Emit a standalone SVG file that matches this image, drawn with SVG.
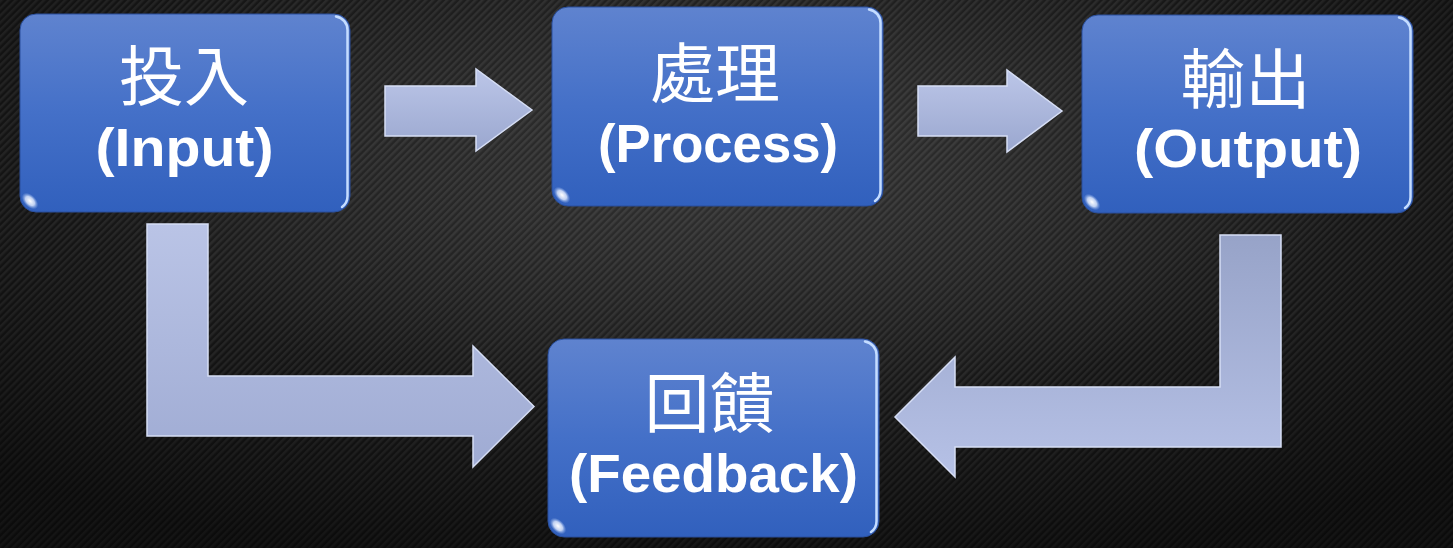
<svg xmlns="http://www.w3.org/2000/svg" width="1453" height="548" viewBox="0 0 1453 548">
<defs>
  <pattern id="stripes" width="5" height="5" patternUnits="userSpaceOnUse" patternTransform="rotate(-45)">
    <rect width="5" height="5" fill="#191919"/>
    <rect width="5" height="2.5" fill="#2d2d2d"/>
  </pattern>
  <radialGradient id="vign" cx="0.5" cy="0.3" r="0.75">
    <stop offset="0" stop-color="#ffffff" stop-opacity="0.10"/>
    <stop offset="0.6" stop-color="#000000" stop-opacity="0.15"/>
    <stop offset="1" stop-color="#000000" stop-opacity="0.55"/>
  </radialGradient>
  <linearGradient id="boxg" x1="0" y1="0" x2="0" y2="1">
    <stop offset="0" stop-color="#5f83cf"/>
    <stop offset="0.5" stop-color="#4470c8"/>
    <stop offset="1" stop-color="#3160bd"/>
  </linearGradient>
  <linearGradient id="hiline" x1="0" y1="0" x2="1" y2="0">
    <stop offset="0" stop-color="#b8d0f5" stop-opacity="0.3"/>
    <stop offset="0.1" stop-color="#b8d0f5" stop-opacity="0.9"/>
    <stop offset="0.9" stop-color="#b8d0f5" stop-opacity="0.9"/>
    <stop offset="1" stop-color="#b8d0f5" stop-opacity="0.3"/>
  </linearGradient>
  <linearGradient id="arrH" x1="0" y1="0" x2="0" y2="1">
    <stop offset="0" stop-color="#bcc6e8"/>
    <stop offset="1" stop-color="#9aa7cf"/>
  </linearGradient>
  <linearGradient id="arrL" x1="0" y1="0" x2="0" y2="1">
    <stop offset="0" stop-color="#bac4e6"/>
    <stop offset="1" stop-color="#9fabd3"/>
  </linearGradient>
  <linearGradient id="arrR" x1="0" y1="0" x2="0" y2="1">
    <stop offset="0" stop-color="#97a3c8"/>
    <stop offset="1" stop-color="#b6c1e6"/>
  </linearGradient>
  <radialGradient id="glint" cx="0.5" cy="0.5" r="0.5">
    <stop offset="0" stop-color="#ffffff" stop-opacity="1"/>
    <stop offset="0.55" stop-color="#e4edff" stop-opacity="0.8"/>
    <stop offset="1" stop-color="#9fbcf0" stop-opacity="0"/>
  </radialGradient>
  <style>
    .box { fill: url(#boxg); stroke: #2a4f9c; stroke-width: 1; }
    .edge { fill: none; stroke: #c4dcff; stroke-width: 2.5; stroke-linecap: round; }
    .top { fill: none; stroke: url(#hiline); stroke-width: 3; stroke-linecap: round; }
    .cjk { font-family: "Noto Sans CJK TC", "Noto Sans CJK SC", sans-serif; font-size: 65px; fill: #ffffff; text-anchor: middle; }
    .lat { font-family: "Liberation Sans", Arial, sans-serif; font-weight: bold; font-size: 54px; fill: #ffffff; text-anchor: middle; }
    .arrow { stroke: #d6def5; stroke-width: 1.5; stroke-linejoin: miter; }
  </style>
</defs>

<rect x="0" y="0" width="1453" height="548" fill="url(#stripes)"/>
<rect x="0" y="0" width="1453" height="548" fill="url(#vign)"/>

<g id="connectors">
  <path class="arrow" fill="url(#arrH)" d="M385,86 H476 V69 L532,110 L476,151 V136 H385 Z"/>
  <path class="arrow" fill="url(#arrH)" d="M918,86 H1007 V70 L1062,111 L1007,152 V136 H918 Z"/>
  <path class="arrow" fill="url(#arrL)" d="M147,224 H208 V376 H473 V346 L534,406.5 L473,467 V436 H147 Z"/>
  <path class="arrow" fill="url(#arrR)" d="M1220,235 H1281 V447 H955 V477 L895,417 L955,357 V387 H1220 Z"/>
</g>

<g id="node-input">
  <rect class="box" x="20" y="14" width="330" height="198" rx="16"/>
  <line class="top" x1="34" y1="19" x2="334" y2="19"/>
  <path class="edge" d="M336,16.5 A13.5,13.5 0 0 1 347.5,30 V196 A13.5,13.5 0 0 1 342,207"/>
  <ellipse cx="30" cy="201" rx="10" ry="6" transform="rotate(45 30 201)" fill="url(#glint)"/>
  <text class="cjk" x="184" y="100">投入</text>
  <text class="lat" x="184.5" y="166" textLength="178" lengthAdjust="spacingAndGlyphs">(Input)</text>
</g>

<g id="node-process">
  <rect class="box" x="552" y="7" width="331" height="199" rx="16"/>
  <line class="top" x1="566" y1="12" x2="867" y2="12"/>
  <path class="edge" d="M869,9.5 A13.5,13.5 0 0 1 880.5,23 V190 A13.5,13.5 0 0 1 875,201"/>
  <ellipse cx="562" cy="195" rx="10" ry="6" transform="rotate(45 562 195)" fill="url(#glint)"/>
  <text class="cjk" x="715" y="97">處理</text>
  <text class="lat" x="718" y="162" textLength="240" lengthAdjust="spacingAndGlyphs">(Process)</text>
</g>

<g id="node-output">
  <rect class="box" x="1082" y="15" width="331" height="198" rx="16"/>
  <line class="top" x1="1096" y1="20" x2="1397" y2="20"/>
  <path class="edge" d="M1399,17.5 A13.5,13.5 0 0 1 1410.5,31 V197 A13.5,13.5 0 0 1 1405,208"/>
  <ellipse cx="1092" cy="202" rx="10" ry="6" transform="rotate(45 1092 202)" fill="url(#glint)"/>
  <text class="cjk" x="1245.5" y="103">輸出</text>
  <text class="lat" x="1248" y="167" textLength="228" lengthAdjust="spacingAndGlyphs">(Output)</text>
</g>

<g id="node-feedback">
  <rect class="box" x="548" y="339" width="331" height="198" rx="16"/>
  <line class="top" x1="562" y1="344" x2="863" y2="344"/>
  <path class="edge" d="M865,341.5 A13.5,13.5 0 0 1 876.5,355 V521 A13.5,13.5 0 0 1 871,532"/>
  <ellipse cx="558" cy="526" rx="10" ry="6" transform="rotate(45 558 526)" fill="url(#glint)"/>
  <text class="cjk" x="709.5" y="427">回饋</text>
  <text class="lat" x="713.5" y="492" textLength="289" lengthAdjust="spacingAndGlyphs">(Feedback)</text>
</g>
</svg>
